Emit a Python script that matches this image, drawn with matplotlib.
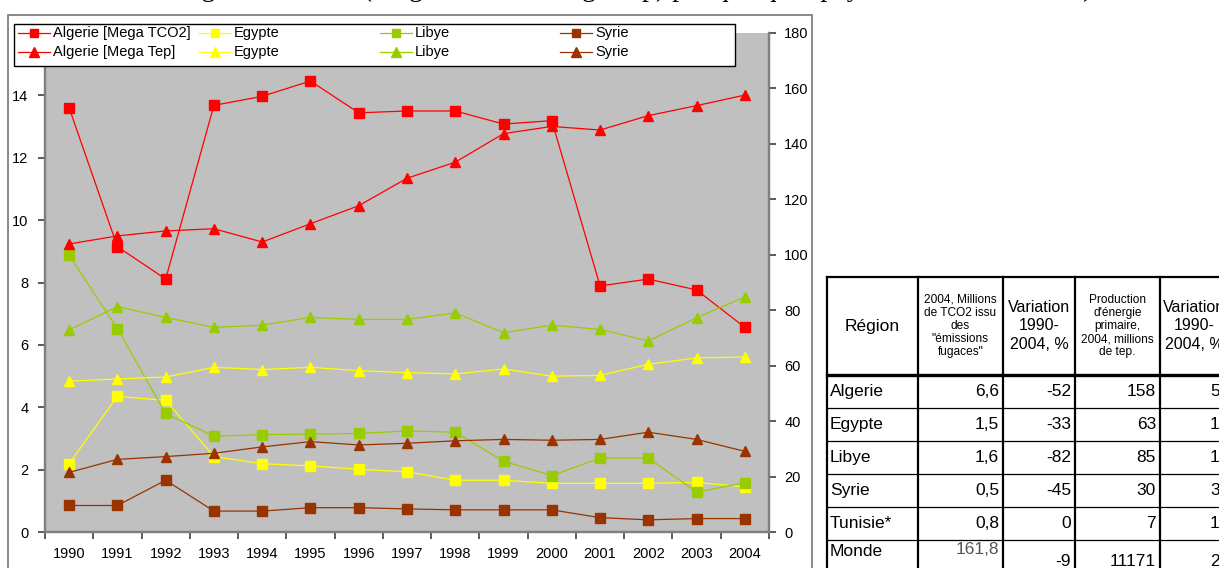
import matplotlib
matplotlib.use("Agg")
import matplotlib.pyplot as plt
from matplotlib.lines import Line2D
from matplotlib.patches import Rectangle

plt.rcParams['font.family'] = ['Liberation Sans', 'DejaVu Sans']

years = ['1990', '1991', '1992', '1993', '1994', '1995', '1996', '1997',
         '1998', '1999', '2000', '2001', '2002', '2003', '2004']

# Mega TCO2 (left axis, squares)
algerie_tco2 = [13.6, 9.15, 8.11, 13.68, 13.97, 14.46, 13.44, 13.5, 13.5, 13.08, 13.19, 7.89, 8.11, 7.76, 6.56]
egypte_tco2 = [2.19, 4.35, 4.22, 2.42, 2.19, 2.12, 2.01, 1.93, 1.66, 1.66, 1.56, 1.56, 1.56, 1.59, 1.45]
libye_tco2 = [8.87, 6.52, 3.8, 3.07, 3.12, 3.14, 3.16, 3.24, 3.2, 2.27, 1.81, 2.37, 2.37, 1.28, 1.58]
syrie_tco2 = [0.85, 0.85, 1.66, 0.67, 0.67, 0.78, 0.78, 0.74, 0.71, 0.71, 0.71, 0.46, 0.39, 0.43, 0.43]

# Mega Tep (right axis, triangles)
algerie_tep = [103.9, 106.8, 108.6, 109.4, 104.6, 111.2, 117.7, 127.6, 133.4, 143.7, 146.3, 145.0, 150.2, 153.8, 157.6]
egypte_tep = [54.4, 55.2, 55.9, 59.4, 58.6, 59.4, 58.2, 57.5, 57.0, 58.8, 56.2, 56.5, 60.5, 62.8, 63.1]
libye_tep = [72.9, 81.3, 77.4, 73.8, 74.6, 77.4, 76.7, 76.7, 79.0, 71.9, 74.6, 73.1, 68.9, 77.3, 84.8]
syrie_tep = [21.5, 26.2, 27.2, 28.4, 30.7, 32.6, 31.4, 32.0, 32.9, 33.4, 33.1, 33.4, 36.0, 33.4, 29.1]

c_alg = '#FF0000'
c_egy = '#FFFF00'
c_lib = '#99CC00'
c_syr = '#993300'

# table data
tab_regions = ['Algerie', 'Egypte', 'Libye', 'Syrie', 'Tunisie*', 'Monde']
tab_tco2 = ['6,6', '1,5', '1,6', '0,5', '0,8', '161,8']
tab_var_tco2 = ['-52', '-33', '-82', '-45', '0', '-9']
tab_prod = ['158', '63', '85', '30', '7', '11171']
tab_var_prod = ['5', '1', '1', '3', '1', '2']

W, H = 1219, 568
fig = plt.figure(figsize=(W / 100, H / 100), dpi=100)


def fx(x):
    return x / W


def fy(y):
    return 1 - y / H


# outer chart frame
fig.patches.append(Rectangle((fx(8), fy(600)), fx(812) - fx(8), fy(15) - fy(600),
                             transform=fig.transFigure, fill=False,
                             edgecolor='#808080', linewidth=1.3, zorder=0))

# clipped title (only descenders visible)
fig.text(fx(575), fy(-4.2), "Emissions fugaces de CO2 (Mega TCO2 et Mega Tep) par quelques pays arabes, 1990-2004)",
         family=['Liberation Serif', 'DejaVu Serif'], fontsize=20, va='baseline', ha='center')

ax = fig.add_axes([fx(45), fy(532), fx(769) - fx(45), fy(33) - fy(532)])
ax.set_facecolor('#C0C0C0')
ax2 = ax.twinx()

x = list(range(len(years)))
ms_sq = 6.8
ms_tr = 7.5
lw = 0.9

series = [
    (ax, algerie_tco2, c_alg, 's', 'Algerie [Mega TCO2]'),
    (ax, egypte_tco2, c_egy, 's', 'Egypte'),
    (ax, libye_tco2, c_lib, 's', 'Libye'),
    (ax, syrie_tco2, c_syr, 's', 'Syrie'),
    (ax2, algerie_tep, c_alg, '^', 'Algerie [Mega Tep]'),
    (ax2, egypte_tep, c_egy, '^', 'Egypte'),
    (ax2, libye_tep, c_lib, '^', 'Libye'),
    (ax2, syrie_tep, c_syr, '^', 'Syrie'),
]
handles = []
for a, vals, col, mk, lab in series:
    h, = a.plot(x, vals, color=col, marker=mk, ms=ms_sq if mk == 's' else ms_tr, lw=lw, label=lab)
    handles.append(h)

ax.set_xlim(-0.5, len(years) - 0.5)
ax.set_ylim(0, 16)
ax.set_yticks(range(0, 15, 2))
ax2.set_ylim(0, 180)
ax2.set_yticks(range(0, 181, 20))

ax.set_xticks([i - 0.5 for i in range(len(years) + 1)])
ax.set_xticklabels([])
ax.set_xticks(x, minor=True)
ax.set_xticklabels(years, minor=True)
ax.tick_params(axis='x', which='minor', length=0, pad=11, labelsize=10.5)
ax.tick_params(axis='x', which='major', length=5, width=1.2, color='#404040', direction='out')
ax.tick_params(axis='y', length=5, width=1.2, color='#404040', labelsize=10.5, pad=7)
ax2.tick_params(axis='y', length=5, width=1.2, color='#404040', labelsize=10.5, pad=6)

for a in (ax, ax2):
    a.spines['top'].set_visible(False)
    for s in ('left', 'right', 'bottom'):
        a.spines[s].set_color('#808080')
        a.spines[s].set_linewidth(1.6)

# ---- legend (drawn at figure level) ----
fig.patches.append(Rectangle((fx(14), fy(66)), fx(735) - fx(14), fy(24) - fy(66),
                             transform=fig.transFigure, facecolor='white',
                             edgecolor='black', linewidth=1.0, zorder=20))
leg_cols_x = [18, 199, 380, 560]
leg_rows_y = [33, 52]
for i, h in enumerate(handles):
    col = i % 4
    row = i // 4
    x0 = leg_cols_x[col]
    yy = fy(leg_rows_y[row])
    fig.lines.append(Line2D([fx(x0), fx(x0 + 32)], [yy, yy], transform=fig.transFigure,
                            color=h.get_color(), lw=lw, zorder=21))
    fig.lines.append(Line2D([fx(x0 + 16)], [yy], transform=fig.transFigure,
                            color=h.get_color(), marker=h.get_marker(),
                            ms=6.3 if h.get_marker() == 's' else 7.0, lw=0, zorder=22))
    fig.text(fx(x0 + 35), yy, h.get_label(), ha='left', va='center', fontsize=10.5, zorder=23)

# ---- table ----
col_x = [827, 918, 1003, 1075, 1160]
row_y = [277, 375, 408, 441, 474, 507, 540]


def hline(y, x0, x1, lw_):
    fig.lines.append(Line2D([fx(x0), fx(x1)], [fy(y), fy(y)], transform=fig.transFigure,
                            color='black', lw=lw_))


def vline(xx, y0, y1, lw_):
    fig.lines.append(Line2D([fx(xx), fx(xx)], [fy(y0), fy(y1)], transform=fig.transFigure,
                            color='black', lw=lw_))


hline(row_y[0], col_x[0], 1219, 1.6)
hline(row_y[1], col_x[0], 1219, 2.4)
for y in row_y[2:]:
    hline(y, col_x[0], 1219, 0.9)
for xx in col_x:
    vline(xx, row_y[0], 568, 1.6)

# header
hy = (row_y[0] + row_y[1]) / 2
fig.text(fx((col_x[0] + col_x[1]) / 2), fy(hy), 'Région', ha='center', va='center', fontsize=12.5)
fig.text(fx((col_x[1] + col_x[2]) / 2), fy(hy),
         '2004, Millions\nde TCO2 issu\ndes\n"émissions\nfugaces"',
         ha='center', va='center', fontsize=8.6, linespacing=1.13)
fig.text(fx((col_x[2] + col_x[3]) / 2), fy(hy), 'Variation\n1990-\n2004, %',
         ha='center', va='center', fontsize=11.5, linespacing=1.3)
fig.text(fx((col_x[3] + col_x[4]) / 2), fy(hy),
         "Production\nd'énergie\nprimaire,\n2004, millions\nde tep.",
         ha='center', va='center', fontsize=8.6, linespacing=1.13)
fig.text(fx(1163), fy(hy), 'Variation\n1990-\n2004, %',
         ha='left', va='center', fontsize=11.5, linespacing=1.3, multialignment='center')

for i, reg in enumerate(tab_regions):
    if i < 5:
        yc = (row_y[i + 1] + row_y[i + 2]) / 2
        ynum = yc
        ytc = yc
    else:
        yc, ynum, ytc = 551, 562, 550
    fig.text(fx(col_x[0] + 3), fy(yc), reg, ha='left', va='center', fontsize=12.5)
    fig.text(fx(col_x[2] - 4), fy(ytc), tab_tco2[i], ha='right', va='center',
             fontsize=12.5, color='black' if i < 5 else '#555555')
    fig.text(fx(col_x[3] - 4), fy(ynum), tab_var_tco2[i], ha='right', va='center', fontsize=12.5)
    fig.text(fx(col_x[4] - 4), fy(ynum), tab_prod[i], ha='right', va='center', fontsize=12.5)
    fig.text(fx(1210), fy(ynum), tab_var_prod[i], ha='left', va='center', fontsize=12.5)

fig.savefig('out.png', dpi=100)
